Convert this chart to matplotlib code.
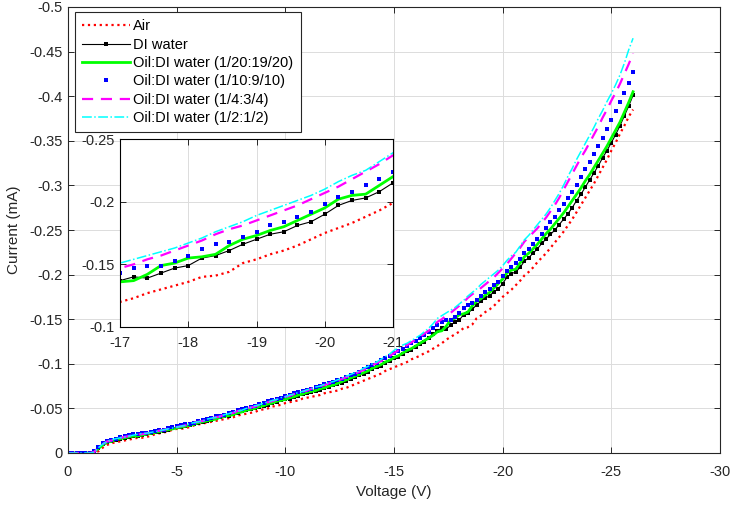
import numpy as np
import matplotlib
matplotlib.use("Agg")
import matplotlib.pyplot as plt

plt.rcParams["font.family"] = ["Liberation Sans", "DejaVu Sans"]
plt.rcParams["axes.unicode_minus"] = False

# sweep magnitude in volts (applied voltage is negative)
sweep = [0.0, 0.2, 0.4, 0.6, 0.8, 1.0, 1.2, 1.4, 1.6, 1.8,
         2.0, 2.2, 2.4, 2.6, 2.8, 3.0, 3.2, 3.4, 3.6, 3.8,
         4.0, 4.2, 4.4, 4.6, 4.8, 5.0, 5.2, 5.4, 5.6, 5.8,
         6.0, 6.2, 6.4, 6.6, 6.8, 7.0, 7.2, 7.4, 7.6, 7.8,
         8.0, 8.2, 8.4, 8.6, 8.8, 9.0, 9.2, 9.4, 9.6, 9.8,
         10.0, 10.2, 10.4, 10.6, 10.8, 11.0, 11.2, 11.4, 11.6, 11.8,
         12.0, 12.2, 12.4, 12.6, 12.8, 13.0, 13.2, 13.4, 13.6, 13.8,
         14.0, 14.2, 14.4, 14.6, 14.8, 15.0, 15.2, 15.4, 15.6, 15.8,
         16.0, 16.2, 16.4, 16.6, 16.8, 17.0, 17.2, 17.4, 17.6, 17.8,
         18.0, 18.2, 18.4, 18.6, 18.8, 19.0, 19.2, 19.4, 19.6, 19.8,
         20.0, 20.2, 20.4, 20.6, 20.8, 21.0, 21.2, 21.4, 21.6, 21.8,
         22.0, 22.2, 22.4, 22.6, 22.8, 23.0, 23.2, 23.4, 23.6, 23.8,
         24.0, 24.2, 24.4, 24.6, 24.8, 25.0, 25.2, 25.4, 25.6, 25.8,
         26.0]

# current magnitudes in mA (measured current is negative)
air = [0, 0, 0, 0, 0, 0, 0, 0.002, 0.006, 0.009,
       0.011, 0.012, 0.013, 0.014, 0.015, 0.016, 0.017, 0.017, 0.018, 0.019,
       0.021, 0.022, 0.023, 0.024, 0.026, 0.027, 0.027, 0.028, 0.029, 0.031,
       0.032, 0.033, 0.034, 0.035, 0.036, 0.037, 0.038, 0.039, 0.040, 0.042,
       0.043, 0.044, 0.045, 0.046, 0.048, 0.049, 0.050, 0.052, 0.053, 0.054,
       0.056, 0.057, 0.058, 0.059, 0.061, 0.062, 0.063, 0.064, 0.065, 0.067,
       0.068, 0.069, 0.070, 0.072, 0.073, 0.075, 0.077, 0.079, 0.081, 0.083,
       0.085, 0.087, 0.089, 0.092, 0.094, 0.096, 0.098, 0.100, 0.102, 0.105,
       0.107, 0.109, 0.112, 0.114, 0.117, 0.120, 0.123, 0.127, 0.130, 0.133,
       0.136, 0.140, 0.141, 0.144, 0.151, 0.154, 0.158, 0.161, 0.165, 0.170,
       0.175, 0.179, 0.183, 0.188, 0.193, 0.199, 0.203, 0.208, 0.214, 0.219,
       0.224, 0.230, 0.236, 0.242, 0.248, 0.255, 0.262, 0.270, 0.278, 0.286,
       0.294, 0.302, 0.311, 0.320, 0.329, 0.339, 0.348, 0.358, 0.367, 0.377,
       0.385]

di_water = [0, 0, 0, 0, 0, 0, 0.001, 0.006, 0.010, 0.012,
            0.014, 0.015, 0.016, 0.017, 0.018, 0.019, 0.019, 0.020, 0.021, 0.022,
            0.023, 0.023, 0.025, 0.026, 0.028, 0.029, 0.029, 0.030, 0.031, 0.033,
            0.034, 0.035, 0.036, 0.037, 0.039, 0.040, 0.041, 0.042, 0.044, 0.045,
            0.047, 0.048, 0.049, 0.050, 0.052, 0.053, 0.054, 0.056, 0.057, 0.059,
            0.060, 0.061, 0.063, 0.064, 0.066, 0.067, 0.068, 0.070, 0.071, 0.073,
            0.074, 0.076, 0.077, 0.079, 0.081, 0.083, 0.085, 0.087, 0.089, 0.091,
            0.094, 0.096, 0.098, 0.101, 0.103, 0.106, 0.108, 0.111, 0.114, 0.116,
            0.119, 0.122, 0.125, 0.129, 0.133, 0.137, 0.140, 0.139, 0.143, 0.147,
            0.149, 0.155, 0.157, 0.161, 0.166, 0.170, 0.174, 0.176, 0.181, 0.184,
            0.190, 0.197, 0.201, 0.203, 0.208, 0.215, 0.219, 0.224, 0.229, 0.235,
            0.240, 0.245, 0.250, 0.256, 0.262, 0.268, 0.275, 0.283, 0.290, 0.298,
            0.306, 0.314, 0.322, 0.331, 0.339, 0.348, 0.357, 0.367, 0.378, 0.389,
            0.401]

oil_1_20 = [0, 0, 0, 0, 0, 0, 0.001, 0.005, 0.009, 0.012,
            0.013, 0.015, 0.016, 0.017, 0.018, 0.019, 0.019, 0.020, 0.021, 0.022,
            0.023, 0.024, 0.025, 0.026, 0.027, 0.028, 0.029, 0.030, 0.031, 0.032,
            0.034, 0.035, 0.036, 0.037, 0.038, 0.040, 0.041, 0.042, 0.043, 0.045,
            0.046, 0.048, 0.049, 0.050, 0.052, 0.053, 0.055, 0.056, 0.058, 0.059,
            0.060, 0.062, 0.063, 0.065, 0.066, 0.068, 0.069, 0.070, 0.072, 0.073,
            0.075, 0.076, 0.078, 0.080, 0.082, 0.084, 0.086, 0.088, 0.090, 0.092,
            0.095, 0.097, 0.099, 0.102, 0.104, 0.107, 0.109, 0.112, 0.115, 0.117,
            0.120, 0.123, 0.126, 0.129, 0.132, 0.136, 0.137, 0.142, 0.149, 0.151,
            0.155, 0.156, 0.158, 0.165, 0.170, 0.173, 0.177, 0.180, 0.185, 0.190,
            0.195, 0.202, 0.205, 0.206, 0.213, 0.220, 0.224, 0.229, 0.234, 0.240,
            0.246, 0.251, 0.257, 0.263, 0.269, 0.276, 0.283, 0.290, 0.297, 0.305,
            0.312, 0.320, 0.328, 0.336, 0.344, 0.353, 0.362, 0.371, 0.382, 0.393,
            0.405]

oil_1_10 = [0, 0, 0, 0, 0, 0, 0.002, 0.007, 0.011, 0.013,
            0.015, 0.016, 0.018, 0.019, 0.020, 0.021, 0.021, 0.022, 0.022, 0.024,
            0.025, 0.026, 0.026, 0.028, 0.029, 0.030, 0.031, 0.032, 0.033, 0.034,
            0.036, 0.037, 0.038, 0.039, 0.041, 0.042, 0.043, 0.045, 0.046, 0.048,
            0.049, 0.050, 0.052, 0.053, 0.055, 0.056, 0.058, 0.059, 0.061, 0.062,
            0.064, 0.065, 0.067, 0.068, 0.070, 0.071, 0.072, 0.074, 0.075, 0.077,
            0.078, 0.080, 0.082, 0.083, 0.085, 0.087, 0.089, 0.091, 0.094, 0.096,
            0.099, 0.101, 0.104, 0.106, 0.109, 0.112, 0.114, 0.117, 0.120, 0.123,
            0.126, 0.129, 0.132, 0.136, 0.140, 0.143, 0.147, 0.149, 0.149, 0.153,
            0.157, 0.162, 0.166, 0.168, 0.172, 0.176, 0.181, 0.184, 0.188, 0.192,
            0.198, 0.204, 0.208, 0.213, 0.218, 0.224, 0.229, 0.234, 0.240, 0.246,
            0.252, 0.259, 0.265, 0.272, 0.279, 0.286, 0.293, 0.301, 0.309, 0.318,
            0.326, 0.335, 0.344, 0.353, 0.363, 0.373, 0.383, 0.393, 0.404, 0.415,
            0.427]

oil_1_4 = [0, 0, 0, 0, 0, 0, 0.001, 0.006, 0.010, 0.013,
           0.014, 0.016, 0.017, 0.018, 0.019, 0.020, 0.021, 0.021, 0.022, 0.023,
           0.024, 0.025, 0.026, 0.027, 0.028, 0.029, 0.030, 0.031, 0.032, 0.034,
           0.035, 0.036, 0.037, 0.039, 0.040, 0.041, 0.043, 0.044, 0.045, 0.047,
           0.048, 0.050, 0.051, 0.052, 0.054, 0.055, 0.057, 0.058, 0.060, 0.061,
           0.063, 0.064, 0.066, 0.067, 0.069, 0.070, 0.072, 0.073, 0.075, 0.076,
           0.078, 0.079, 0.081, 0.083, 0.085, 0.087, 0.089, 0.091, 0.093, 0.096,
           0.098, 0.101, 0.103, 0.106, 0.109, 0.112, 0.115, 0.118, 0.121, 0.124,
           0.127, 0.130, 0.134, 0.137, 0.142, 0.147, 0.150, 0.154, 0.157, 0.161,
           0.165, 0.169, 0.174, 0.178, 0.181, 0.185, 0.189, 0.193, 0.197, 0.202,
           0.207, 0.212, 0.218, 0.224, 0.230, 0.237, 0.242, 0.247, 0.252, 0.258,
           0.264, 0.271, 0.278, 0.286, 0.295, 0.304, 0.313, 0.322, 0.331, 0.339,
           0.348, 0.357, 0.366, 0.376, 0.385, 0.395, 0.404, 0.414, 0.425, 0.436,
           0.448]

oil_1_2 = [0, 0, 0, 0, 0, 0, 0.001, 0.006, 0.010, 0.013,
           0.015, 0.016, 0.017, 0.018, 0.019, 0.020, 0.021, 0.022, 0.022, 0.023,
           0.024, 0.025, 0.026, 0.027, 0.028, 0.029, 0.030, 0.031, 0.033, 0.034,
           0.035, 0.036, 0.038, 0.039, 0.040, 0.041, 0.043, 0.044, 0.046, 0.047,
           0.048, 0.050, 0.051, 0.053, 0.054, 0.056, 0.057, 0.059, 0.060, 0.062,
           0.063, 0.065, 0.066, 0.068, 0.069, 0.071, 0.072, 0.074, 0.075, 0.077,
           0.079, 0.080, 0.082, 0.084, 0.086, 0.088, 0.090, 0.092, 0.095, 0.097,
           0.100, 0.102, 0.105, 0.108, 0.111, 0.115, 0.118, 0.121, 0.123, 0.126,
           0.129, 0.132, 0.136, 0.140, 0.145, 0.151, 0.154, 0.157, 0.160, 0.163,
           0.167, 0.171, 0.176, 0.180, 0.184, 0.189, 0.193, 0.197, 0.201, 0.205,
           0.210, 0.216, 0.221, 0.225, 0.232, 0.239, 0.244, 0.250, 0.256, 0.262,
           0.268, 0.275, 0.283, 0.291, 0.300, 0.310, 0.319, 0.329, 0.338, 0.347,
           0.356, 0.365, 0.375, 0.384, 0.394, 0.403, 0.413, 0.424, 0.437, 0.452,
           0.465]

labels = ["Air", "DI water", "Oil:DI water (1/20:19/20)", "Oil:DI water (1/10:9/10)",
          "Oil:DI water (1/4:3/4)", "Oil:DI water (1/2:1/2)"]

x_ticks = [0, -5, -10, -15, -20, -25, -30]
x_ticklabels = ["0", "-5", "-10", "-15", "-20", "-25", "-30"]
y_ticks = [0, -0.05, -0.1, -0.15, -0.2, -0.25, -0.3, -0.35, -0.4, -0.45, -0.5]
y_ticklabels = ["0", "-0.05", "-0.1", "-0.15", "-0.2", "-0.25", "-0.3", "-0.35",
                "-0.4", "-0.45", "-0.5"]
inset_x_ticks = [-17, -18, -19, -20, -21]
inset_x_ticklabels = ["-17", "-18", "-19", "-20", "-21"]
inset_y_ticks = [-0.1, -0.15, -0.2, -0.25]
inset_y_ticklabels = ["-0.1", "-0.15", "-0.2", "-0.25"]

voltage = -np.array(sweep)
data = [air, di_water, oil_1_20, oil_1_10, oil_1_4, oil_1_2]
styles = [
    dict(color="#ff0000", linestyle=":", linewidth=1.6),
    dict(color="black", linestyle="-", linewidth=0.8, marker="s", markersize=2.3,
         markeredgewidth=0),
    dict(color="#00ff00", linestyle="-", linewidth=2.0),
    dict(color="#0000ff", linestyle="none", marker="s", markersize=3.1,
         markeredgewidth=0),
    dict(color="#ff00ff", linestyle=(0, (5, 3.5)), linewidth=1.6),
    dict(color="#00ffff", linestyle="-.", linewidth=1.1),
]

axis_col = "#262626"
grid_col = "#dcdcdc"


def style_axes(ax, xpad):
    ax.grid(True, color=grid_col, linewidth=0.7)
    ax.set_axisbelow(True)
    ax.tick_params(direction="in", top=True, right=True, length=4, width=0.7,
                   colors=axis_col, labelsize=10.5)
    ax.tick_params(axis="x", pad=xpad)
    ax.tick_params(axis="y", pad=4)
    for s in ax.spines.values():
        s.set_color(axis_col)
        s.set_linewidth(0.8)


def draw(ax):
    for vals, lab, st in zip(data, labels, styles):
        ax.plot(voltage, -np.array(vals), label=lab, **st)


fig = plt.figure(figsize=(7.33, 5.07), dpi=100)
ax = fig.add_axes([68 / 733, 54 / 507, 652 / 733, 446 / 507])
draw(ax)
ax.set_xlim(0, -30)
ax.set_ylim(0, -0.5)
ax.set_xticks(x_ticks)
ax.set_xticklabels(x_ticklabels)
ax.set_yticks(y_ticks)
ax.set_yticklabels(y_ticklabels)
style_axes(ax, 9)
ax.set_xlabel("Voltage (V)", fontsize=11, color=axis_col, labelpad=4)
ax.set_ylabel("Current (mA)", fontsize=11, color=axis_col, labelpad=6)

leg = ax.legend(loc="upper left", bbox_to_anchor=(75 / 733, 1 - 12 / 507),
                bbox_transform=fig.transFigure, borderaxespad=0, fontsize=10.5,
                handlelength=3.3, handletextpad=0.2, labelspacing=0.3,
                borderpad=0.5, fancybox=False, framealpha=1, edgecolor="#262626")
leg.get_frame().set_linewidth(0.8)

ins = fig.add_axes([120 / 733, 180 / 507, 273 / 733, 188 / 507])
draw(ins)
ins.set_xlim(-17, -21)
ins.set_ylim(-0.1, -0.25)
ins.set_xticks(inset_x_ticks)
ins.set_xticklabels(inset_x_ticklabels)
ins.set_yticks(inset_y_ticks)
ins.set_yticklabels(inset_y_ticklabels)
style_axes(ins, 6.5)
for s in ins.spines.values():
    s.set_color("black")
ins.set_facecolor("white")

fig.savefig("out.png", dpi=100)
